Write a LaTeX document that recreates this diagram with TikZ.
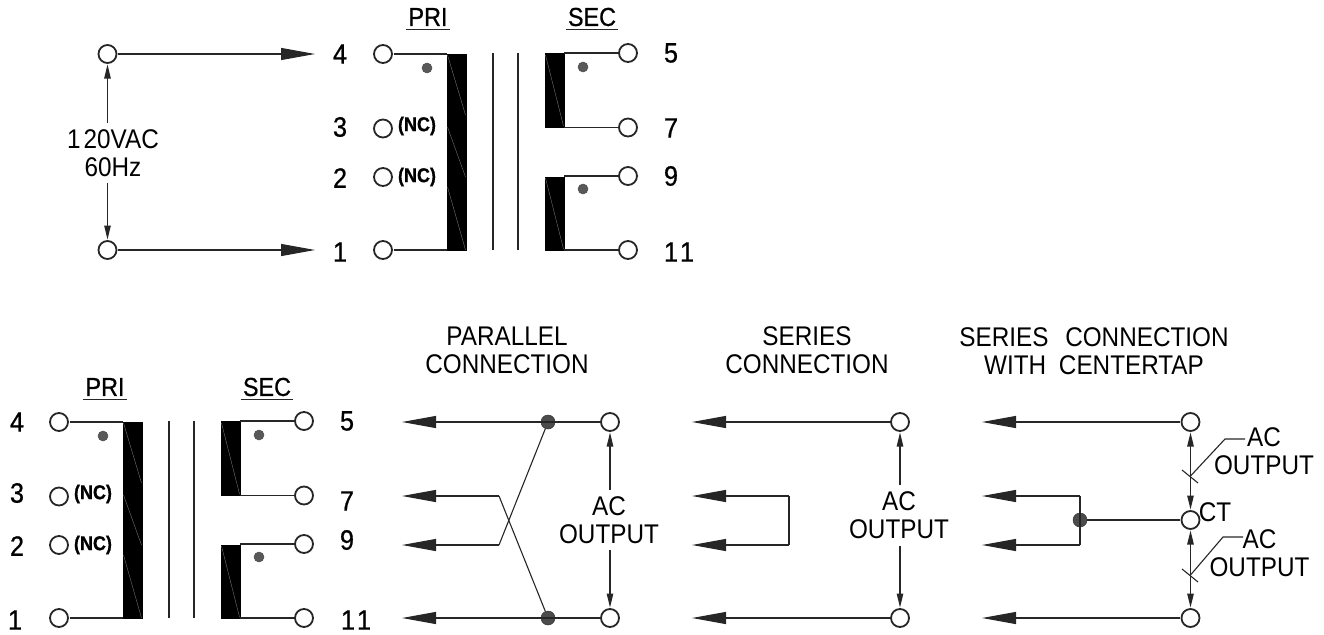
\documentclass[tikz,border=0pt]{standalone}
\usepackage{fontspec}
\setmainfont{Liberation Sans}[FakeStretch=0.9]
\newfontfamily\heavyfont{Liberation Sans}[FakeStretch=0.9,FakeBold=0.7]
\usetikzlibrary{positioning}
\usetikzlibrary{arrows.meta}

\tikzset{
    wire/.style = {line width=1.1pt, draw=black!85},
    term/.style = {draw=black!85, circle, line width=1.8pt, minimum size=18pt, inner sep=0pt, outer sep=1.5pt},
    joint/.style = {draw=black!80, fill=black!70, circle, line width=.5pt, minimum size=14pt, inner sep=0pt},
    phase/.style = {draw=black!70, fill=black!65, circle, line width=.5pt, minimum size=10pt, inner sep=0pt},
    coil/.style = {draw=black, fill=black, line width=.5pt, minimum width=19pt, inner sep=0pt, outer sep=0pt},
    bigarrow/.style = {wire, -{Triangle[length=34pt, width=12pt]}},
    thinarrow/.style = {wire, -{Triangle[length=14pt, width=6.5pt]}},
    botharrow/.style = {wire, {Triangle[length=14pt, width=6.5pt]}-{Triangle[length=14pt, width=6.5pt]}},
    caption/.style = {inner sep=0pt, font=\fontsize{27}{28}\selectfont, align=center},
    measure/.style = {caption, inner ysep=6.5pt},
    pin/.style = {inner sep=0pt, font=\fontsize{28}{28}\heavyfont},
    nc/.style = {inner sep=0pt, font=\fontsize{20}{20}\heavyfont\bfseries},
    head/.style = {inner sep=2pt, font=\fontsize{26}{26}\heavyfont}
}

\begin{document}
\begin{tikzpicture}[x=1pt, y=-1pt]
    \useasboundingbox (0,0) rectangle (1324,634);

    % the same transformer, upper and lower
    \foreach \sx/\sy/\tag in {0/0/u, -324/368/l} {
        \begin{scope}[shift={(\sx,\sy)}]
            \node[term] (p4\tag) at (383,54) {};
            \node[term] (p3\tag) at (383,128.5) {};
            \node[term] (p2\tag) at (383,177) {};
            \node[term] (p1\tag) at (383,250) {};
            \node[term] (s5\tag) at (628,53) {};
            \node[term] (s7\tag) at (628,127.5) {};
            \node[term] (s9\tag) at (628,176) {};
            \node[term] (s11\tag) at (628,250) {};
            \node[coil, minimum height=196pt] (pb\tag) at (456.5,152) {};
            \node[coil, minimum height=74pt] (sa\tag) at (554.5,90) {};
            \node[coil, minimum height=73pt] (sb\tag) at (554.5,213.5) {};
            \node[phase] (dp\tag) at (427,68) {};
            \node[phase] (da\tag) at (583,67) {};
            \node[phase] (db\tag) at (583,189) {};
            \node[nc] (n3\tag) at (417,126) {(NC)};
            \node[nc] (n2\tag) at (417,177) {(NC)};

            \draw[wire] (p4\tag) -- (p4\tag -| pb\tag.west);
            \draw[wire] (p1\tag) -- (p1\tag -| pb\tag.west);
            \draw[wire] (s5\tag) -- (s5\tag -| sa\tag.east);
            \draw[wire] (s7\tag) -- (s7\tag -| sa\tag.east);
            \draw[wire] (s9\tag) -- (s9\tag -| sb\tag.east);
            \draw[wire] (s11\tag) -- (s11\tag -| sb\tag.east);

            \draw[wire] (493,53) -- (493,250);
            \draw[wire] (518,53) -- (518,250);

            \draw[black!55, line width=.4pt] (447.5,55) -- (465.5,115) (447.5,127) -- (465.5,177) (447.5,187) -- (465.5,250);
            \draw[black!55, line width=.4pt] (545.5,55) -- (563.5,126);
            \draw[black!55, line width=.4pt] (545.5,178) -- (563.5,249);
        \end{scope}
    }

    % upper left, the input
    \node[term] (inA) at (107.5,54) {};
    \node[term] (inB) at (107.5,250) {};
    \coordinate (in4) at (315,54);
    \coordinate (in1) at (315,250);
    \node[measure] (line) at (113,153) {1\hspace{3pt}20VAC\\60Hz};
    \draw[bigarrow] (inA) -- (in4);
    \draw[bigarrow] (inB) -- (in1);
    \draw[thinarrow] (line.north -| inA) -- (inA);
    \draw[thinarrow] (line.south -| inB) -- (inB);

    \node[pin] (u4) at (340,54) {4};
    \node[pin] (u3) at (340,127) {3};
    \node[pin] (u2) at (340,178) {2};
    \node[pin] (u1) at (340,252) {1};
    \node[pin] (u5) at (671,53) {5};
    \node[pin] (u7) at (671,128) {7};
    \node[pin] (u9) at (671,176) {9};
    \node[pin] (u11) at (679,252) {1\hspace{2pt}1};
    \node[head] (upri) at (428,17) {PRI};
    \node[head] (usec) at (592,17) {SEC};
    \draw[wire] ([yshift=-1pt]upri.south west) -- ([yshift=-1pt]upri.south east);
    \draw[wire] ([yshift=-1pt]usec.south west) -- ([yshift=-1pt]usec.south east);

    % lower left pins
    \node[pin] (l4) at (17,422) {4};
    \node[pin] (l3) at (17,493) {3};
    \node[pin] (l2) at (17,546) {2};
    \node[pin] (l1) at (15,620) {1};
    \node[pin] (l5) at (347,421) {5};
    \node[pin] (l7) at (347,501) {7};
    \node[pin] (l9) at (347,540) {9};
    \node[pin] (l11) at (356,620) {1\hspace{2pt}1};
    \node[head] (lpri) at (105,387) {PRI};
    \node[head] (lsec) at (267,387) {SEC};
    \draw[wire] ([yshift=-1pt]lpri.south west) -- ([yshift=-1pt]lpri.south east);
    \draw[wire] ([yshift=-1pt]lsec.south west) -- ([yshift=-1pt]lsec.south east);

    % parallel
    \node[caption] (partitle) at (507,350.5) {PARALLEL\\CONNECTION};
    \node[term] (parT) at (610,422) {};
    \node[term] (parB) at (610,618) {};
    \node[joint] (parJ) at (548,422) {};
    \node[joint] (parK) at (548,618) {};
    \coordinate (parW) at (402,422);
    \coordinate (parX) at (402,496);
    \coordinate (parY) at (402,545);
    \coordinate (parZ) at (402,618);
    \coordinate (parP) at (499,496);
    \coordinate (parQ) at (499,545);
    \node[measure] (parac) at (609,520) {AC\\OUTPUT};
    \draw[bigarrow] (parT) -- (parW);
    \draw[bigarrow] (parP) -- (parX);
    \draw[bigarrow] (parQ) -- (parY);
    \draw[bigarrow] (parB) -- (parZ);
    \draw[wire] (parP) -- (parK);
    \draw[wire] (parQ) -- (parJ);
    \draw[thinarrow] (parac.north -| parT) -- (parT);
    \draw[thinarrow] (parac.south -| parB) -- (parB);

    % series
    \node[caption] (sertitle) at (807,350.5) {SERIES\\CONNECTION};
    \node[term] (serT) at (900,422) {};
    \node[term] (serB) at (900,618) {};
    \coordinate (serW) at (692,422);
    \coordinate (serX) at (692,496);
    \coordinate (serY) at (692,545);
    \coordinate (serZ) at (692,618);
    \coordinate (serP) at (789,496);
    \coordinate (serQ) at (789,545);
    \node[measure] (serac) at (899,515.5) {AC\\OUTPUT};
    \draw[bigarrow] (serT) -- (serW);
    \draw[bigarrow] (serB) -- (serZ);
    \draw[bigarrow] (serP) -- (serX);
    \draw[bigarrow] (serQ) -- (serY);
    \draw[wire] (serP) -- (serQ);
    \draw[thinarrow] (serac.north -| serT) -- (serT);
    \draw[thinarrow] (serac.south -| serB) -- (serB);

    % series with centertap
    \node[caption] (cttitle) at (1094,351) {SERIES\hspace{10pt} CONNECTION\\WITH\hspace{6pt} CENTERTAP};
    \node[term] (ctT) at (1190.5,422) {};
    \node[term] (ctM) at (1190.5,520) {};
    \node[term] (ctB) at (1190.5,618) {};
    \node[joint] (ctJ) at (1080,520) {};
    \coordinate (ctW) at (982,422);
    \coordinate (ctX) at (982,496);
    \coordinate (ctY) at (982,545);
    \coordinate (ctZ) at (982,618);
    \coordinate (ctP) at (1080,496);
    \coordinate (ctQ) at (1080,545);
    \coordinate (tickA) at (1190.5,476);
    \coordinate (tickB) at (1190.5,575);
    \node[caption] (ctac) at (1264,451.5) {AC\\OUTPUT};
    \node[caption] (ctad) at (1259.5,553.5) {AC\\OUTPUT};
    \node[caption, font=\fontsize{27}{27}\selectfont] (ctname) at (1215,512) {CT};
    \draw[bigarrow] (ctT) -- (ctW);
    \draw[bigarrow] (ctB) -- (ctZ);
    \draw[bigarrow] (ctP) -- (ctX);
    \draw[bigarrow] (ctQ) -- (ctY);
    \draw[wire] (ctP) -- (ctQ);
    \draw[wire] (ctJ) -- (ctM);
    \draw[botharrow] (ctT) -- (ctM);
    \draw[botharrow] (ctM) -- (ctB);
    \draw[wire] (1182,470) -- (1198,483);
    \draw[wire] (1182,569) -- (1198,582);
    \draw[wire] (tickA) -- (1225,439) -- (1245,439);
    \draw[wire] (tickB) -- (1223,537) -- (1243,537);
\end{tikzpicture}
\end{document}
